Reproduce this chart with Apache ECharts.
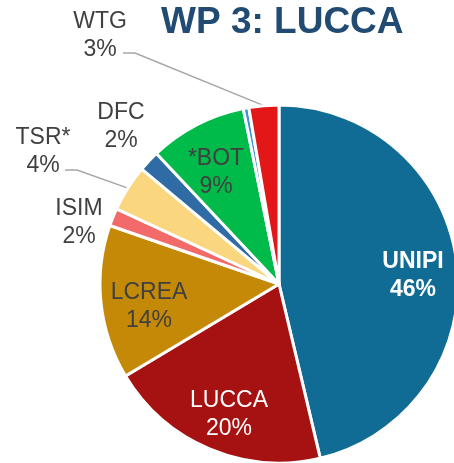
<!DOCTYPE html>
<html>
<head>
<meta charset="utf-8">
<script src="https://cdn.jsdelivr.net/npm/echarts@6/dist/echarts.min.js"></script>
<style>
  html, body { margin: 0; padding: 0; background: #fff; }
  #plot { width: 454px; height: 463px; }
</style>
</head>
<body>
<div id="plot"></div>
<script>
// partner shares (%), clockwise from 12 o'clock
const partners = ['UNIPI', 'LUCCA', 'LCREA', 'ISIM', 'TSR*', 'DFC', '*BOT', '', 'WTG'];
const shares = [46.3, 20.1, 13.9, 1.6, 4.2, 1.9, 8.8, 0.5, 2.7];
const sliceColors = ['#106b95', '#a61111', '#c48a07', '#f26a6a', '#fad67e', '#2f6ba5', '#00bb4a', '#3a92d4', '#e31717'];

// where each label sits (text centre) and, for the two with leaders, where the leader starts
const labelSpots = {
    'UNIPI': {x: 413, y: 276, color: '#fff', bold: true},
    'LUCCA': {x: 229, y: 415, color: '#fff'},
    'LCREA': {x: 149, y: 307},
    '*BOT': {x: 216, y: 173},
    'ISIM': {x: 79, y: 223},
    'TSR*': {x: 43, y: 152, lineFrom: [65, 170]},
    'DFC': {x: 121, y: 127},
    'WTG': {x: 100, y: 36, lineFrom: [123, 53]}
};

let chart = echarts.init(document.getElementById('plot'));

let pieData = [];
for (let i = 0; i < partners.length; i++) {
    let spot = labelSpots[partners[i]];
    pieData.push({
        name: partners[i],
        value: shares[i],
        itemStyle: {color: sliceColors[i]},
        label: {
            show: !!spot,
            color: spot && spot.color ? spot.color : '#404040',
            fontWeight: spot && spot.bold ? 'bold' : 'normal'
        },
        labelLine: {show: !!(spot && spot.lineFrom)}
    });
}

chart.setOption({
    animation: false,
    title: {
        text: 'WP 3: LUCCA',
        left: 156,
        top: -2,
        textStyle: {
            fontFamily: 'Liberation Sans',
            fontSize: 37,
            lineHeight: 40,
            fontWeight: 'bold',
            color: '#214b72'
        }
    },
    series: [{
        type: 'pie',
        center: [279, 284],
        radius: 179,
        startAngle: 90,
        clockwise: true,
        avoidLabelOverlap: false,
        itemStyle: {borderColor: '#fff', borderWidth: 3},
        label: {
            position: 'outside',
            fontFamily: 'Liberation Sans',
            fontSize: 23,
            lineHeight: 28,
            formatter: function (p) {
                return p.name + '\n' + Math.round(p.value) + '%';
            }
        },
        labelLine: {
            lineStyle: {color: '#a6a6a6', width: 1.5}
        },
        labelLayout: function (params) {
            let spot = labelSpots[partners[params.dataIndex]];
            if (!spot) {
                return {};
            }
            let out = {x: spot.x, y: spot.y, align: 'center', verticalAlign: 'middle'};
            if (spot.lineFrom) {
                // end of the leader: outer edge of the slice, at its mid angle
                let lay = chart.getModel().getSeriesByIndex(0).getData().getItemLayout(params.dataIndex);
                let mid = (lay.startAngle + lay.endAngle) / 2;
                let ex = lay.cx + lay.r * Math.cos(mid);
                let ey = lay.cy + lay.r * Math.sin(mid);
                out.labelLinePoints = [
                    [spot.lineFrom[0], spot.lineFrom[1]],
                    [spot.lineFrom[0] + 12, spot.lineFrom[1]],
                    [ex, ey]
                ];
            }
            return out;
        },
        data: pieData
    }]
});
</script>
</body>
</html>
